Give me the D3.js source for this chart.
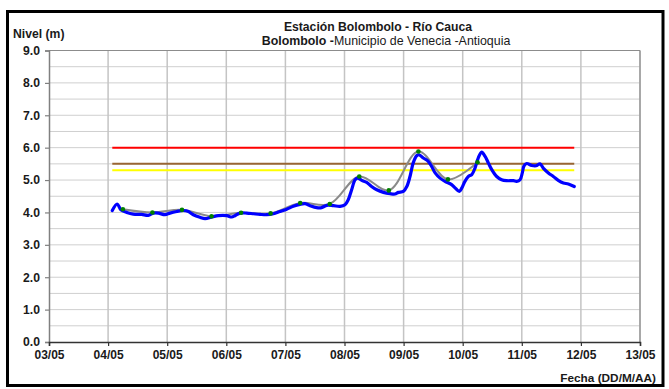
<!DOCTYPE html>
<html>
<head>
<meta charset="utf-8">
<script src="https://cdn.jsdelivr.net/npm/d3@7"></script>
<style>
  html, body { margin: 0; padding: 0; background: #fff; }
  svg { display: block; font-family: "Liberation Sans", Arial, sans-serif; }
</style>
</head>
<body>
<svg id="chart" width="669" height="389"></svg>
<script>
// ---- Data ----
const titleLine1 = "Estación Bolombolo - Río Cauca";
const subtitleBold = "Bolombolo -";
const subtitleRest = "Municipio de Venecia -Antioquia";
const yAxisTitle = "Nivel (m)";
const xAxisTitle = "Fecha (DD/M/AA)";

// x-axis day ticks (DD/MM)
const dayTicks = ["03/05","04/05","05/05","06/05","07/05","08/05","09/05","10/05","11/05","12/05","13/05"];
const yTicks = [0,1,2,3,4,5,6,7,8,9];

// Observed level (blue): hours since 03/05 00:00, level in m
const levelHours = [25.7,27.7,29.2,31.6,34.2,37.6,40.3,42.4,44.4,47.1,49.1,51.9,54.5,56.6,58.6,61.3,63.4,66.1,68.8,72.2,
  74.2,75.5,77.6,80.3,83.0,85.7,88.4,91.1,93.8,96.5,99.2,101.9,104.0,106.0,108.7,110.7,112.8,115.5,118.2,120.2,
  121.5,122.9,124.3,125.4,127.0,129.0,131.0,133.1,135.8,138.5,140.5,141.9,143.9,145.3,146.6,147.9,149.3,150.3,152.0,154.0,
  155.4,156.8,158.8,160.8,163.5,164.9,166.6,167.6,168.9,170.3,171.7,173.0,174.3,175.7,177.1,178.4,179.8,181.8,183.8,185.9,
  188.6,189.9,191.3,192.2,192.9,194.0,196.0,197.8,199.4,200.7,202.8,204.8,206.8,208.9,210.9,213.3];
const levelValues = [4.06,4.26,4.08,4.00,3.95,3.94,3.91,3.98,3.98,3.93,3.98,4.03,4.06,4.03,3.93,3.85,3.81,3.86,3.90,3.90,
  3.86,3.90,3.98,3.98,3.96,3.94,3.93,3.96,4.03,4.10,4.19,4.25,4.27,4.21,4.15,4.15,4.22,4.21,4.19,4.24,
  4.39,4.70,5.01,5.06,4.99,4.93,4.80,4.70,4.62,4.58,4.57,4.62,4.65,4.80,5.11,5.53,5.75,5.78,5.68,5.58,
  5.42,5.22,5.06,4.96,4.86,4.76,4.65,4.75,4.96,5.11,5.17,5.37,5.68,5.86,5.73,5.53,5.32,5.11,5.01,4.98,
  4.98,4.96,5.01,5.22,5.44,5.51,5.45,5.44,5.50,5.37,5.22,5.11,4.99,4.91,4.88,4.80];

// Twice-daily readings (green points + grey smooth line): hours since 03/05 00:00
const readingHours = [30,42,54,66,78,90,102,114,126,138,150,162,174];
const readingValues = [4.10,4.00,4.08,3.88,3.99,3.97,4.29,4.26,5.11,4.68,5.88,5.02,5.55];

// Alert thresholds (m)
const thresholdValues = [6.0, 5.5, 5.3];
const thresholdColors = ["#ff0000", "#996633", "#ffff00"];

// ---- Chart ----
const svg = d3.select("#chart");
const base = new Date(2008, 4, 3, 0, 0, 0);
const toDate = h => new Date(base.getTime() + h * 3600 * 1000);

const pLeft = 49, pRight = 640, pTop = 50.5, pBottom = 342;
const x = d3.scaleTime().domain([toDate(0), toDate(240)]).range([pLeft, pRight]);
const y = d3.scaleLinear().domain([0, 9]).range([pBottom, pTop]);

// outer border
svg.append("rect").attr("x", 7.5).attr("y", 11.5).attr("width", 655.5).attr("height", 374)
  .attr("fill", "none").attr("stroke", "#000").attr("stroke-width", 3);

// gridlines
const g = svg.append("g");
const halfSteps = d3.range(0.5, 9.01, 0.5);
g.selectAll("line.hg").data(halfSteps).join("line")
  .attr("x1", pLeft).attr("x2", pRight)
  .attr("y1", d => y(d)).attr("y2", d => y(d))
  .attr("stroke", "#cfcfcf").attr("stroke-width", 1);
const dayDates = dayTicks.map((_, i) => toDate(i * 24));
g.selectAll("line.vg").data(dayDates.slice(1)).join("line")
  .attr("x1", d => x(d)).attr("x2", d => x(d))
  .attr("y1", pTop).attr("y2", pBottom)
  .attr("stroke", "#c4c4c4").attr("stroke-width", 1.5);

// plot border top/right
svg.append("line").attr("x1", pLeft).attr("x2", pRight).attr("y1", pTop).attr("y2", pTop)
  .attr("stroke", "#8c8c8c").attr("stroke-width", 1.2);
svg.append("line").attr("x1", pRight).attr("x2", pRight).attr("y1", pTop).attr("y2", pBottom)
  .attr("stroke", "#8c8c8c").attr("stroke-width", 1.2);

// thresholds spanning the observed period
const tStart = toDate(levelHours[0]), tEnd = toDate(levelHours[levelHours.length - 1]);
svg.selectAll("line.thr").data(thresholdValues).join("line")
  .attr("x1", x(tStart)).attr("x2", x(tEnd))
  .attr("y1", d => y(d)).attr("y2", d => y(d))
  .attr("stroke", (d, i) => thresholdColors[i]).attr("stroke-width", 2);

// grey smooth line
const readings = readingHours.map((h, i) => ({ t: toDate(h), v: readingValues[i] }));
svg.append("path").datum(readings)
  .attr("d", d3.line().x(d => x(d.t)).y(d => y(d.v)).curve(d3.curveCatmullRom.alpha(0.5)))
  .attr("fill", "none").attr("stroke", "#8a8a8a").attr("stroke-width", 2);

// blue observed line
const levels = levelHours.map((h, i) => ({ t: toDate(h), v: levelValues[i] }));
svg.append("path").datum(levels)
  .attr("d", d3.line().x(d => x(d.t)).y(d => y(d.v)).curve(d3.curveCatmullRom.alpha(0.5)))
  .attr("fill", "none").attr("stroke", "#0000ff").attr("stroke-width", 3.2)
  .attr("stroke-linejoin", "round").attr("stroke-linecap", "round");

// green points
svg.selectAll("circle.pt").data(readings).join("circle")
  .attr("cx", d => x(d.t)).attr("cy", d => y(d.v)).attr("r", 2.3)
  .attr("fill", "#008000");

// y axis
const yAxis = svg.append("g").attr("transform", `translate(${pLeft},0)`)
  .call(d3.axisLeft(y).tickValues(yTicks).tickFormat(d3.format(".1f")).tickSize(4).tickPadding(5));
yAxis.select(".domain").attr("stroke", "#808080").attr("stroke-width", 1.5);
yAxis.selectAll(".tick line").attr("stroke", "#808080").attr("stroke-width", 1.2);
yAxis.selectAll(".tick text").attr("font-size", 12.2).attr("font-weight", "bold").attr("fill", "#1a1a1a")
  .attr("font-family", "Liberation Sans, Arial, sans-serif");

// x axis
const xAxis = svg.append("g").attr("transform", `translate(0,${pBottom})`)
  .call(d3.axisBottom(x).tickValues(dayDates).tickFormat((d, i) => dayTicks[i]).tickSize(4).tickPadding(4));
xAxis.select(".domain").attr("stroke", "#333").attr("stroke-width", 1.5);
xAxis.selectAll(".tick line").attr("stroke", "#333").attr("stroke-width", 1.2);
xAxis.selectAll(".tick text").attr("font-size", 12).attr("font-weight", "bold").attr("fill", "#1a1a1a")
  .attr("font-family", "Liberation Sans, Arial, sans-serif");

// titles
svg.append("text").attr("x", 378).attr("y", 31).attr("text-anchor", "middle")
  .attr("font-size", 12.2).attr("font-weight", "bold").attr("fill", "#1a1a1a").text(titleLine1);
const sub = svg.append("text").attr("x", 386).attr("y", 45).attr("text-anchor", "middle")
  .attr("font-size", 12.4).attr("fill", "#1a1a1a");
sub.append("tspan").attr("font-weight", "bold").text(subtitleBold);
sub.append("tspan").text(subtitleRest);

svg.append("text").attr("x", 13).attr("y", 38).attr("font-size", 12.2).attr("font-weight", "bold")
  .attr("fill", "#1a1a1a").text(yAxisTitle);
svg.append("text").attr("x", 656).attr("y", 382).attr("text-anchor", "end").attr("font-size", 11.8)
  .attr("font-weight", "bold").attr("fill", "#1a1a1a").text(xAxisTitle);
</script>
</body>
</html>
